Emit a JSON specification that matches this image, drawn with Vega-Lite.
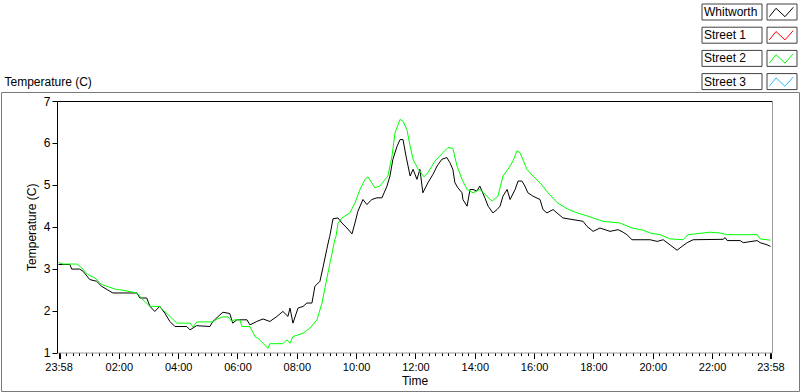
{
  "$schema": "https://vega.github.io/schema/vega-lite/v6.json",
  "width": 798,
  "height": 299,
  "autosize": {"type": "none"},
  "padding": {"left": 1, "top": 92, "right": 1, "bottom": 1},
  "background": "white",
  "config": {
    "view": {"stroke": "#7a7a7a", "strokeWidth": 1},
    "font": "Liberation Sans"
  },
  "data": {
    "values": [
      {"h": -0.033, "s": "Whitworth", "v": 3.10},
      {"h": 0.35, "s": "Whitworth", "v": 3.10},
      {"h": 0.41, "s": "Whitworth", "v": 2.99},
      {"h": 0.68, "s": "Whitworth", "v": 2.99},
      {"h": 0.79, "s": "Whitworth", "v": 2.94},
      {"h": 1.02, "s": "Whitworth", "v": 2.74},
      {"h": 1.25, "s": "Whitworth", "v": 2.70},
      {"h": 1.42, "s": "Whitworth", "v": 2.58},
      {"h": 1.70, "s": "Whitworth", "v": 2.46},
      {"h": 1.80, "s": "Whitworth", "v": 2.42},
      {"h": 2.61, "s": "Whitworth", "v": 2.42},
      {"h": 2.71, "s": "Whitworth", "v": 2.30},
      {"h": 2.94, "s": "Whitworth", "v": 2.30},
      {"h": 3.05, "s": "Whitworth", "v": 2.10},
      {"h": 3.21, "s": "Whitworth", "v": 1.98},
      {"h": 3.38, "s": "Whitworth", "v": 2.10},
      {"h": 3.55, "s": "Whitworth", "v": 1.94},
      {"h": 3.72, "s": "Whitworth", "v": 1.74},
      {"h": 3.89, "s": "Whitworth", "v": 1.62},
      {"h": 4.29, "s": "Whitworth", "v": 1.62},
      {"h": 4.40, "s": "Whitworth", "v": 1.54},
      {"h": 4.62, "s": "Whitworth", "v": 1.64},
      {"h": 5.07, "s": "Whitworth", "v": 1.62},
      {"h": 5.17, "s": "Whitworth", "v": 1.74},
      {"h": 5.41, "s": "Whitworth", "v": 1.90},
      {"h": 5.51, "s": "Whitworth", "v": 1.96},
      {"h": 5.74, "s": "Whitworth", "v": 1.93},
      {"h": 5.84, "s": "Whitworth", "v": 1.70},
      {"h": 5.98, "s": "Whitworth", "v": 1.78},
      {"h": 6.32, "s": "Whitworth", "v": 1.78},
      {"h": 6.42, "s": "Whitworth", "v": 1.66},
      {"h": 6.65, "s": "Whitworth", "v": 1.74},
      {"h": 6.86, "s": "Whitworth", "v": 1.80},
      {"h": 7.09, "s": "Whitworth", "v": 1.74},
      {"h": 7.33, "s": "Whitworth", "v": 1.86},
      {"h": 7.53, "s": "Whitworth", "v": 1.98},
      {"h": 7.70, "s": "Whitworth", "v": 1.86},
      {"h": 7.77, "s": "Whitworth", "v": 2.06},
      {"h": 7.87, "s": "Whitworth", "v": 1.70},
      {"h": 8.04, "s": "Whitworth", "v": 2.06},
      {"h": 8.21, "s": "Whitworth", "v": 2.10},
      {"h": 8.34, "s": "Whitworth", "v": 2.18},
      {"h": 8.51, "s": "Whitworth", "v": 2.18},
      {"h": 8.61, "s": "Whitworth", "v": 2.58},
      {"h": 8.78, "s": "Whitworth", "v": 2.70},
      {"h": 8.88, "s": "Whitworth", "v": 3.02},
      {"h": 9.01, "s": "Whitworth", "v": 3.46},
      {"h": 9.08, "s": "Whitworth", "v": 3.69},
      {"h": 9.11, "s": "Whitworth", "v": 3.77},
      {"h": 9.22, "s": "Whitworth", "v": 4.19},
      {"h": 9.39, "s": "Whitworth", "v": 4.21},
      {"h": 9.52, "s": "Whitworth", "v": 4.09},
      {"h": 9.69, "s": "Whitworth", "v": 3.97},
      {"h": 9.86, "s": "Whitworth", "v": 3.83},
      {"h": 9.96, "s": "Whitworth", "v": 4.09},
      {"h": 10.06, "s": "Whitworth", "v": 4.37},
      {"h": 10.23, "s": "Whitworth", "v": 4.65},
      {"h": 10.36, "s": "Whitworth", "v": 4.53},
      {"h": 10.53, "s": "Whitworth", "v": 4.65},
      {"h": 10.70, "s": "Whitworth", "v": 4.69},
      {"h": 10.87, "s": "Whitworth", "v": 4.69},
      {"h": 11.04, "s": "Whitworth", "v": 4.97},
      {"h": 11.14, "s": "Whitworth", "v": 5.21},
      {"h": 11.24, "s": "Whitworth", "v": 5.61},
      {"h": 11.38, "s": "Whitworth", "v": 5.92},
      {"h": 11.48, "s": "Whitworth", "v": 6.08},
      {"h": 11.58, "s": "Whitworth", "v": 6.08},
      {"h": 11.68, "s": "Whitworth", "v": 5.69},
      {"h": 11.75, "s": "Whitworth", "v": 5.45},
      {"h": 11.82, "s": "Whitworth", "v": 5.21},
      {"h": 11.92, "s": "Whitworth", "v": 5.37},
      {"h": 12.05, "s": "Whitworth", "v": 5.13},
      {"h": 12.15, "s": "Whitworth", "v": 5.37},
      {"h": 12.25, "s": "Whitworth", "v": 4.81},
      {"h": 12.42, "s": "Whitworth", "v": 5.05},
      {"h": 12.59, "s": "Whitworth", "v": 5.25},
      {"h": 12.73, "s": "Whitworth", "v": 5.45},
      {"h": 12.89, "s": "Whitworth", "v": 5.61},
      {"h": 13.06, "s": "Whitworth", "v": 5.65},
      {"h": 13.16, "s": "Whitworth", "v": 5.53},
      {"h": 13.26, "s": "Whitworth", "v": 5.37},
      {"h": 13.33, "s": "Whitworth", "v": 5.05},
      {"h": 13.43, "s": "Whitworth", "v": 4.93},
      {"h": 13.57, "s": "Whitworth", "v": 4.81},
      {"h": 13.60, "s": "Whitworth", "v": 4.65},
      {"h": 13.74, "s": "Whitworth", "v": 4.49},
      {"h": 13.84, "s": "Whitworth", "v": 4.89},
      {"h": 13.94, "s": "Whitworth", "v": 4.89},
      {"h": 14.07, "s": "Whitworth", "v": 4.85},
      {"h": 14.17, "s": "Whitworth", "v": 4.97},
      {"h": 14.34, "s": "Whitworth", "v": 4.69},
      {"h": 14.45, "s": "Whitworth", "v": 4.49},
      {"h": 14.61, "s": "Whitworth", "v": 4.33},
      {"h": 14.75, "s": "Whitworth", "v": 4.41},
      {"h": 14.85, "s": "Whitworth", "v": 4.49},
      {"h": 14.95, "s": "Whitworth", "v": 4.73},
      {"h": 15.09, "s": "Whitworth", "v": 4.89},
      {"h": 15.19, "s": "Whitworth", "v": 4.65},
      {"h": 15.36, "s": "Whitworth", "v": 4.89},
      {"h": 15.46, "s": "Whitworth", "v": 5.09},
      {"h": 15.59, "s": "Whitworth", "v": 5.09},
      {"h": 15.69, "s": "Whitworth", "v": 4.97},
      {"h": 15.79, "s": "Whitworth", "v": 4.81},
      {"h": 15.96, "s": "Whitworth", "v": 4.73},
      {"h": 16.20, "s": "Whitworth", "v": 4.65},
      {"h": 16.30, "s": "Whitworth", "v": 4.41},
      {"h": 16.43, "s": "Whitworth", "v": 4.33},
      {"h": 16.64, "s": "Whitworth", "v": 4.41},
      {"h": 16.77, "s": "Whitworth", "v": 4.33},
      {"h": 16.97, "s": "Whitworth", "v": 4.21},
      {"h": 17.31, "s": "Whitworth", "v": 4.17},
      {"h": 17.65, "s": "Whitworth", "v": 4.13},
      {"h": 17.78, "s": "Whitworth", "v": 4.01},
      {"h": 17.99, "s": "Whitworth", "v": 3.89},
      {"h": 18.22, "s": "Whitworth", "v": 3.97},
      {"h": 18.56, "s": "Whitworth", "v": 3.89},
      {"h": 18.83, "s": "Whitworth", "v": 3.93},
      {"h": 19.00, "s": "Whitworth", "v": 3.87},
      {"h": 19.13, "s": "Whitworth", "v": 3.81},
      {"h": 19.30, "s": "Whitworth", "v": 3.69},
      {"h": 19.91, "s": "Whitworth", "v": 3.69},
      {"h": 20.15, "s": "Whitworth", "v": 3.65},
      {"h": 20.35, "s": "Whitworth", "v": 3.69},
      {"h": 20.58, "s": "Whitworth", "v": 3.57},
      {"h": 20.82, "s": "Whitworth", "v": 3.44},
      {"h": 21.02, "s": "Whitworth", "v": 3.55},
      {"h": 21.16, "s": "Whitworth", "v": 3.62},
      {"h": 21.36, "s": "Whitworth", "v": 3.69},
      {"h": 22.37, "s": "Whitworth", "v": 3.70},
      {"h": 22.44, "s": "Whitworth", "v": 3.74},
      {"h": 22.51, "s": "Whitworth", "v": 3.67},
      {"h": 22.95, "s": "Whitworth", "v": 3.67},
      {"h": 23.05, "s": "Whitworth", "v": 3.62},
      {"h": 23.52, "s": "Whitworth", "v": 3.67},
      {"h": 23.62, "s": "Whitworth", "v": 3.62},
      {"h": 23.85, "s": "Whitworth", "v": 3.57},
      {"h": 23.97, "s": "Whitworth", "v": 3.53},
      {"h": 0, "s": "Street 1", "v": null},
      {"h": -0.033, "s": "Street 2", "v": 3.15},
      {"h": 0.11, "s": "Street 2", "v": 3.11},
      {"h": 0.58, "s": "Street 2", "v": 3.11},
      {"h": 0.75, "s": "Street 2", "v": 3.02},
      {"h": 0.95, "s": "Street 2", "v": 2.86},
      {"h": 1.19, "s": "Street 2", "v": 2.78},
      {"h": 1.43, "s": "Street 2", "v": 2.62},
      {"h": 1.93, "s": "Street 2", "v": 2.50},
      {"h": 2.03, "s": "Street 2", "v": 2.50},
      {"h": 2.61, "s": "Street 2", "v": 2.42},
      {"h": 2.81, "s": "Street 2", "v": 2.26},
      {"h": 3.05, "s": "Street 2", "v": 2.10},
      {"h": 3.38, "s": "Street 2", "v": 2.10},
      {"h": 3.48, "s": "Street 2", "v": 2.02},
      {"h": 3.72, "s": "Street 2", "v": 1.86},
      {"h": 3.96, "s": "Street 2", "v": 1.70},
      {"h": 4.40, "s": "Street 2", "v": 1.70},
      {"h": 4.50, "s": "Street 2", "v": 1.61},
      {"h": 4.63, "s": "Street 2", "v": 1.73},
      {"h": 5.17, "s": "Street 2", "v": 1.73},
      {"h": 5.31, "s": "Street 2", "v": 1.80},
      {"h": 5.51, "s": "Street 2", "v": 1.85},
      {"h": 5.68, "s": "Street 2", "v": 1.85},
      {"h": 5.81, "s": "Street 2", "v": 1.74},
      {"h": 5.91, "s": "Street 2", "v": 1.78},
      {"h": 6.08, "s": "Street 2", "v": 1.78},
      {"h": 6.15, "s": "Street 2", "v": 1.62},
      {"h": 6.42, "s": "Street 2", "v": 1.62},
      {"h": 6.59, "s": "Street 2", "v": 1.38},
      {"h": 6.69, "s": "Street 2", "v": 1.34},
      {"h": 6.86, "s": "Street 2", "v": 1.22},
      {"h": 7.03, "s": "Street 2", "v": 1.10},
      {"h": 7.09, "s": "Street 2", "v": 1.21},
      {"h": 7.53, "s": "Street 2", "v": 1.21},
      {"h": 7.67, "s": "Street 2", "v": 1.30},
      {"h": 7.77, "s": "Street 2", "v": 1.22},
      {"h": 7.87, "s": "Street 2", "v": 1.38},
      {"h": 8.21, "s": "Street 2", "v": 1.46},
      {"h": 8.44, "s": "Street 2", "v": 1.58},
      {"h": 8.68, "s": "Street 2", "v": 1.78},
      {"h": 8.85, "s": "Street 2", "v": 2.18},
      {"h": 8.95, "s": "Street 2", "v": 2.54},
      {"h": 9.05, "s": "Street 2", "v": 2.90},
      {"h": 9.18, "s": "Street 2", "v": 3.34},
      {"h": 9.28, "s": "Street 2", "v": 3.69},
      {"h": 9.32, "s": "Street 2", "v": 3.77},
      {"h": 9.39, "s": "Street 2", "v": 4.09},
      {"h": 9.52, "s": "Street 2", "v": 4.21},
      {"h": 9.79, "s": "Street 2", "v": 4.33},
      {"h": 9.96, "s": "Street 2", "v": 4.57},
      {"h": 10.13, "s": "Street 2", "v": 4.89},
      {"h": 10.30, "s": "Street 2", "v": 5.13},
      {"h": 10.40, "s": "Street 2", "v": 5.19},
      {"h": 10.63, "s": "Street 2", "v": 4.93},
      {"h": 10.80, "s": "Street 2", "v": 4.97},
      {"h": 11.07, "s": "Street 2", "v": 5.21},
      {"h": 11.21, "s": "Street 2", "v": 5.69},
      {"h": 11.31, "s": "Street 2", "v": 6.24},
      {"h": 11.48, "s": "Street 2", "v": 6.56},
      {"h": 11.58, "s": "Street 2", "v": 6.52},
      {"h": 11.71, "s": "Street 2", "v": 6.32},
      {"h": 11.82, "s": "Street 2", "v": 5.92},
      {"h": 11.92, "s": "Street 2", "v": 5.61},
      {"h": 12.09, "s": "Street 2", "v": 5.37},
      {"h": 12.29, "s": "Street 2", "v": 5.19},
      {"h": 12.42, "s": "Street 2", "v": 5.29},
      {"h": 12.66, "s": "Street 2", "v": 5.57},
      {"h": 12.93, "s": "Street 2", "v": 5.77},
      {"h": 13.10, "s": "Street 2", "v": 5.89},
      {"h": 13.26, "s": "Street 2", "v": 5.87},
      {"h": 13.40, "s": "Street 2", "v": 5.45},
      {"h": 13.57, "s": "Street 2", "v": 5.13},
      {"h": 13.74, "s": "Street 2", "v": 4.89},
      {"h": 13.94, "s": "Street 2", "v": 4.81},
      {"h": 14.17, "s": "Street 2", "v": 4.89},
      {"h": 14.41, "s": "Street 2", "v": 4.73},
      {"h": 14.58, "s": "Street 2", "v": 4.61},
      {"h": 14.78, "s": "Street 2", "v": 4.73},
      {"h": 14.95, "s": "Street 2", "v": 5.21},
      {"h": 15.12, "s": "Street 2", "v": 5.37},
      {"h": 15.29, "s": "Street 2", "v": 5.57},
      {"h": 15.42, "s": "Street 2", "v": 5.81},
      {"h": 15.52, "s": "Street 2", "v": 5.77},
      {"h": 15.76, "s": "Street 2", "v": 5.37},
      {"h": 15.96, "s": "Street 2", "v": 5.21},
      {"h": 16.20, "s": "Street 2", "v": 5.05},
      {"h": 16.47, "s": "Street 2", "v": 4.81},
      {"h": 16.77, "s": "Street 2", "v": 4.58},
      {"h": 17.11, "s": "Street 2", "v": 4.43},
      {"h": 17.45, "s": "Street 2", "v": 4.33},
      {"h": 17.78, "s": "Street 2", "v": 4.26},
      {"h": 18.32, "s": "Street 2", "v": 4.13},
      {"h": 18.89, "s": "Street 2", "v": 4.09},
      {"h": 19.30, "s": "Street 2", "v": 3.97},
      {"h": 19.67, "s": "Street 2", "v": 3.92},
      {"h": 19.91, "s": "Street 2", "v": 3.85},
      {"h": 20.25, "s": "Street 2", "v": 3.81},
      {"h": 20.58, "s": "Street 2", "v": 3.71},
      {"h": 21.02, "s": "Street 2", "v": 3.69},
      {"h": 21.19, "s": "Street 2", "v": 3.81},
      {"h": 21.93, "s": "Street 2", "v": 3.87},
      {"h": 22.27, "s": "Street 2", "v": 3.85},
      {"h": 22.51, "s": "Street 2", "v": 3.81},
      {"h": 23.52, "s": "Street 2", "v": 3.81},
      {"h": 23.62, "s": "Street 2", "v": 3.71},
      {"h": 23.97, "s": "Street 2", "v": 3.68},
      {"h": 0, "s": "Street 3", "v": null}
    ]
  },
  "layer": [
    {
      "mark": {"type": "line", "strokeWidth": 1},
      "encoding": {
        "x": {
          "field": "h",
          "type": "quantitative",
          "scale": {"domain": [-0.085, 24.02], "range": [56, 771], "nice": false, "zero": false},
          "axis": {
            "orient": "bottom",
            "offset": -38.5,
            "values": [-0.0333, 0, 0.2222, 0.4444, 0.6667, 0.8889, 1.1111, 1.3333, 1.5556, 1.7778, 2, 2.2222, 2.4444, 2.6667, 2.8889, 3.1111, 3.3333, 3.5556, 3.7778, 4, 4.2222, 4.4444, 4.6667, 4.8889, 5.1111, 5.3333, 5.5556, 5.7778, 6, 6.2222, 6.4444, 6.6667, 6.8889, 7.1111, 7.3333, 7.5556, 7.7778, 8, 8.2222, 8.4444, 8.6667, 8.8889, 9.1111, 9.3333, 9.5556, 9.7778, 10, 10.2222, 10.4444, 10.6667, 10.8889, 11.1111, 11.3333, 11.5556, 11.7778, 12, 12.2222, 12.4444, 12.6667, 12.8889, 13.1111, 13.3333, 13.5556, 13.7778, 14, 14.2222, 14.4444, 14.6667, 14.8889, 15.1111, 15.3333, 15.5556, 15.7778, 16, 16.2222, 16.4444, 16.6667, 16.8889, 17.1111, 17.3333, 17.5556, 17.7778, 18, 18.2222, 18.4444, 18.6667, 18.8889, 19.1111, 19.3333, 19.5556, 19.7778, 20, 20.2222, 20.4444, 20.6667, 20.8889, 21.1111, 21.3333, 21.5556, 21.7778, 22, 22.2222, 22.4444, 22.6667, 22.8889, 23.1111, 23.3333, 23.5556, 23.7778, 23.9667, 24],
            "labelExpr": "(abs(datum.value + 0.0333) < 0.001 || abs(datum.value - 23.9667) < 0.001) ? '23:58' : ((datum.value >= 1.9 && datum.value <= 22.1 && abs(datum.value / 2 - round(datum.value / 2)) < 0.001) ? ((datum.value < 10 ? '0' : '') + round(datum.value) + ':00') : '')",
            "tickSize": {"condition": {"test": "datum.value < 0 || abs(datum.value - 23.9667) < 0.001 || abs(datum.value / 2 - round(datum.value / 2)) < 0.001", "value": 6}, "value": 3},
            "tickColor": "#000000",
            "domainColor": "#9a9a9a",
            "grid": false,
            "labelFlush": false,
            "labelOverlap": false,
            "labelBound": false,
            "labelFontSize": 11,
            "labelColor": "#000000",
            "labelPadding": 3,
            "title": "Time",
            "titleFontSize": 12,
            "titleFontWeight": "normal",
            "titleColor": "#000000",
            "titlePadding": 3
          }
        },
        "y": {
          "field": "v",
          "type": "quantitative",
          "scale": {"domain": [1, 7], "range": [260.5, 9], "nice": false, "zero": false},
          "axis": {
            "orient": "left",
            "offset": -56,
            "values": [1, 2, 3, 4, 5, 6, 7],
            "tickSize": 5,
            "tickColor": "#000000",
            "domainColor": "#000000",
            "grid": false,
            "labelFontSize": 12,
            "labelColor": "#000000",
            "labelPadding": 2,
            "title": "Temperature (C)",
            "titleFontSize": 12,
            "titleFontWeight": "normal",
            "titleColor": "#000000",
            "titlePadding": 5
          }
        },
        "color": {
          "field": "s",
          "type": "nominal",
          "scale": {"domain": ["Whitworth", "Street 1", "Street 2", "Street 3"], "range": ["#000000", "#ff0000", "#00ff00", "#30b8f0"]},
          "legend": {
            "orient": "none",
            "legendX": 701,
            "legendY": -86,
            "title": null,
            "padding": 0,
            "rowPadding": 9.2,
            "labelFontSize": 12,
            "labelColor": "#000000",
            "symbolType": "M-12.7,4.7L-6,-3.7L3,4.7L11.3,-4.7",
            "symbolSize": 4,
            "symbolStrokeWidth": 1,
            "encode": {
              "symbols": {"update": {"x": {"value": 80}, "fill": {"value": "transparent"}}},
              "labels": {"update": {"x": {"value": 2}, "align": {"value": "left"}}}
            }
          }
        },
        "opacity": {
          "field": "s",
          "type": "nominal",
          "sort": ["Whitworth", "Street 1", "Street 2", "Street 3"],
          "scale": {"range": [1, 1]},
          "legend": {
            "orient": "none",
            "legendX": 701,
            "legendY": -86,
            "title": null,
            "padding": 0,
            "rowPadding": 3.2,
            "labelFontSize": 12,
            "labelOpacity": 0,
            "symbolType": "M-80,-8H-20V8H-80Z M-15,-8H15V8H-15Z",
            "symbolSize": 4,
            "symbolStrokeWidth": 1,
            "encode": {
              "symbols": {"update": {"x": {"value": 80}, "fill": {"value": "transparent"}, "stroke": {"value": "#404040"}, "opacity": {"value": 1}}},
              "labels": {"update": {"x": {"value": 2}, "align": {"value": "left"}}}
            }
          }
        }
      }
    },
    {
      "mark": {"type": "line", "opacity": 0},
      "encoding": {
        "x": {
          "field": "h",
          "type": "quantitative",
          "axis": {
            "orient": "top",
            "offset": -9,
            "labels": false,
            "ticks": false,
            "grid": false,
            "domainColor": "#000000",
            "title": "Temperature (C)",
            "titleX": 3,
            "titleY": -16,
            "titleAlign": "left",
            "titleAnchor": "start",
            "titleBaseline": "alphabetic",
            "titleFontSize": 12,
            "titleFontWeight": "normal",
            "titleColor": "#000000"
          }
        },
        "y": {
          "field": "v",
          "type": "quantitative",
          "axis": {
            "orient": "right",
            "offset": -27,
            "labels": false,
            "ticks": false,
            "grid": false,
            "domainColor": "#9a9a9a",
            "title": null
          }
        },
        "detail": {"field": "s"}
      }
    }
  ],
  "resolve": {"axis": {"x": "independent", "y": "independent"}}
}
